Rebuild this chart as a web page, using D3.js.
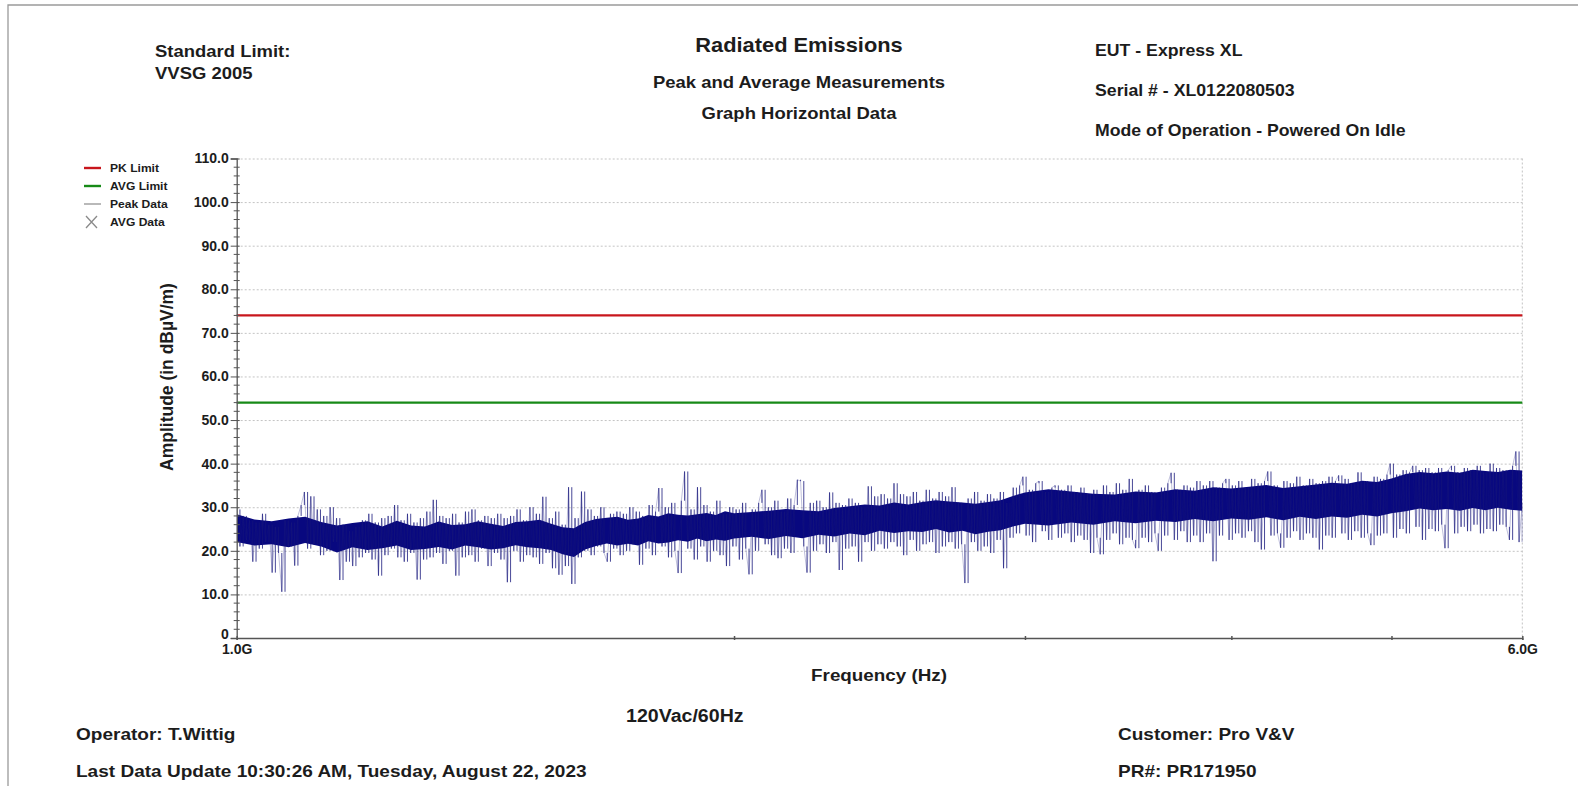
<!DOCTYPE html>
<html><head><meta charset="utf-8">
<script src="https://cdn.jsdelivr.net/npm/d3@7"></script>
<style>
body{margin:0;background:#fff}
svg{display:block}
text{font-family:"Liberation Sans",Arial,sans-serif;fill:#1c1c1c}
</style>
</head><body>
<svg id="chart" width="1578" height="786"></svg>
<script>
// ---------- data ----------
const yTickValues = [0,10,20,30,40,50,60,70,80,90,100,110];
const yTickLabels = ["0","10.0","20.0","30.0","40.0","50.0","60.0","70.0","80.0","90.0","100.0","110.0"];
const xTickFreqGHz = [1,2,3,4,5,6];
const xTickLabels = ["1.0G","","","","","6.0G"];
const pkLimit = 74.0;
const avgLimit = 54.0;
const legendLabels = ["PK Limit","AVG Limit","Peak Data","AVG Data"];

// dense core of the peak trace (envelope of the overlapping sweep lines)
const coreFreqGHz = [
1.000,1.025,1.050,1.075,1.100,1.125,1.150,1.175,1.200,1.225,1.250,1.275,1.300,1.325,1.350,1.375,1.400,1.425,1.450,1.475,
1.500,1.525,1.550,1.575,1.600,1.625,1.650,1.675,1.700,1.725,1.750,1.775,1.800,1.825,1.850,1.875,1.900,1.925,1.950,1.975,
2.00,2.05,2.10,2.15,2.20,2.25,2.30,2.35,2.40,2.45,2.50,2.55,2.60,2.65,2.70,2.75,2.80,2.85,2.90,2.95,
3.0,3.1,3.2,3.3,3.4,3.5,3.6,3.7,3.8,3.9,4.0,4.1,4.2,4.3,4.4,4.5,4.6,4.7,4.8,4.9,5.0,5.1,5.2,5.3,5.4,5.5,5.6,5.7,5.8,5.9,6.0];
const coreLo = [
22,21.2,21.5,20.8,21.8,21,19.6,20.8,20.2,20.6,21.2,20.2,20.4,20.9,20.3,21.2,20.8,20.3,20.6,21.3,
20.8,20.6,20.2,19.2,18.6,20.3,21.1,21.7,21.2,21.6,21.2,22.2,21.7,21.9,22.4,22.1,22.8,22.2,22.6,22.3,
22.8,23.2,22.7,23.4,22.9,23.7,23.3,24,23.6,24.6,24.1,24.5,24.3,25,24.2,24.6,23.8,24.4,24.7,25.6,
26.2,25.8,26.5,26,26.8,26.3,26.9,26.6,27.3,26.8,27.4,27.1,27.7,27,27.8,27.3,27.9,27.6,28.3,27.9,28.6,29.1,29.7,29.3,29.6,29.2,29.8,29.3,29.9,29.4,29.2];
const coreHi = [
28.4,27.2,26.8,27.4,27.8,26.6,25.8,26.4,26.8,25.6,26.9,25.8,25.6,26.7,25.9,26.1,26.8,26.2,25.7,26.6,
26.8,27.1,26.2,25.4,25.2,26.6,27.3,27.6,27.8,27.1,27.4,28.2,27.9,28.6,28.3,28.1,28.4,28.7,28.2,29.1,
28.6,28.9,29.2,29.6,29.3,29.1,29.8,30.2,30.6,30.4,31.1,30.6,31.2,31.6,31.3,31.1,30.8,31.2,31.6,32.6,
33.4,34.1,33.6,33.1,32.9,33.6,33.4,34.1,33.8,34.6,34.3,34.7,35.1,34.4,34.8,35.2,35.6,35.4,36.1,35.8,36.6,37.6,38.1,37.8,38.2,37.9,38.6,38.3,38.1,38.6,38.4];

// peak data trace (dBuV/m), sweep 1.0 GHz -> 6.0 GHz
const sweepStartGHz = 1.0, sweepStopGHz = 6.0;
const peakData = [
29.5,21,28,22.5,27,17.5,26.5,20.5,28.5,22,26,15,25.5,19.5,10.6,27,21,26.5,16.6,28,
30.5,33.5,20.5,32.5,21.5,29.5,19,28,20,30,22,27.5,13.3,26,17.5,24.5,16.5,25.5,18.5,27,
19.5,28.5,18,26.5,14.3,27.5,19,28,20.5,30.5,18.5,27,17.5,28.5,19.5,26.5,13.4,27.5,18,29,
18.5,31.7,19.5,28,17,27.5,20,28.5,14.3,26.5,18.5,29,19,29.5,17.5,27,20.5,28,16.5,27.5,
19.5,28.5,18,27.5,12.8,28,20,29.5,17.5,27,19,30,18.5,28.5,17,32.4,19.5,27.5,16,29,
14.5,26,16.5,34.6,12.4,27.5,18.5,33.6,20,29.5,19,28,21,30,19.5,17.5,28.5,20.5,29,19,
28.5,20,30,21.5,29,16.8,28,20.5,30.5,19,29,34.4,21,30,18.5,31,20,14.9,31.5,38.2,
20.5,29.5,18,34.6,21,30.5,17.5,29,20,31.5,19,28.5,16.5,30,21,29.5,18,31,20.5,14.6,
29.5,20,31,34,21.5,30,19,31.5,18.3,29,20.5,32,19.5,30.5,36.3,36,21,15,31,20,
31.5,21.5,30,19.5,33.4,22,31,15.6,30.5,20.5,32,21,31,17.5,30,22,34.8,20,32.5,21.5,
33,20.5,32,22,35.5,21,33,19,32.5,22.5,33.5,20,31.5,21.5,34,22,32,19.5,33.5,21,
32.5,22,34.6,20.5,31,21.5,12.6,32,22,33.5,20,31.5,21,33,19.5,32,22.5,33.5,16,31,
23,34.5,24,35,37,23.5,34,22,35.5,36,24.5,33.5,22.5,34.5,35,23,34,24,35,22,
33.5,23.5,34.5,22.5,33,19.5,34,23,19.2,35,22.5,33.5,24,35.5,21.5,34,23,36.5,22.5,20.6,
34,23,35,22,33.5,24,20,34.5,23.5,35.5,37.9,22.5,34,24.5,35,22,34.5,23.5,36,22,
35,24,36,17.6,34.5,23.5,35.5,36.5,22.5,35,24,36,23,34.5,24.5,36.5,22,35.5,20.3,36,
38.2,23.5,35,24,20.7,36,23,35.5,24.5,37,22.5,35,24,36.5,23,35.5,20.3,36,23.5,37,
23,36,37.3,24,36.5,22.5,35.5,24.5,38,23,36,24,21.3,37,23.5,36.5,24,37.5,40,23,
37.5,25,38.5,24,38,39.5,25.5,38.5,22.5,39,25,38,24.5,39,26,20.6,38.5,39.5,24,38,
25.5,39,24.5,38.5,26,39.5,24,38,25,40,24.5,39,26,38.5,25.5,22.5,39.5,42.8,22,31
];

// ---------- layout ----------
const svg = d3.select("#chart");
const plot = {left:236.7, right:1522.3, top:158.5, bottom:638};
const x = d3.scaleLog().domain([1,6]).range([plot.left, plot.right]);
const y = d3.scaleLinear().domain([0,110]).range([plot.bottom, plot.top]);
const SX = 1.12;

function txt(xp, yc, s, size, weight, anchor, sx) {
  sx = sx || SX;
  svg.append("text")
    .attr("transform", `translate(${xp},${yc + size*0.36}) scale(${sx},1)`)
    .attr("font-size", size).attr("font-weight", weight)
    .attr("text-anchor", anchor).text(s);
}

// outer frame (left + top)
svg.append("path").attr("d","M8,786V5H1578").attr("fill","none").attr("stroke","#9a9a9a").attr("stroke-width",1.3);

// header texts
txt(155, 51, "Standard Limit:", 16.5, "bold", "start");
txt(155, 73, "VVSG 2005", 16.5, "bold", "start");
txt(799, 45, "Radiated Emissions", 19.5, "bold", "middle");
txt(799, 82, "Peak and Average Measurements", 16.5, "bold", "middle");
txt(799, 113, "Graph Horizontal Data", 16.5, "bold", "middle");
txt(1095, 50, "EUT - Express XL", 15.8, "bold", "start");
txt(1095, 90, "Serial # - XL0122080503", 15.8, "bold", "start");
txt(1095, 130, "Mode of Operation - Powered On Idle", 15.8, "bold", "start");

// footer texts
txt(879, 675, "Frequency (Hz)", 16.8, "bold", "middle");
txt(626, 716, "120Vac/60Hz", 17.5, "bold", "start");
txt(76, 734, "Operator: T.Wittig", 17, "bold", "start");
txt(76, 771, "Last Data Update 10:30:26 AM, Tuesday, August 22, 2023", 17, "bold", "start");
txt(1118, 734, "Customer: Pro V&V", 17, "bold", "start");
txt(1118, 771, "PR#: PR171950", 17, "bold", "start");

// y axis title
svg.append("text")
  .attr("transform", `translate(166,377) rotate(-90) scale(1,1.1)`)
  .attr("y", 17.5*0.36).attr("font-size", 17.5).attr("font-weight","bold").attr("text-anchor","middle")
  .text("Amplitude (in dB\u00b5V/m)");

// grid
const grid = svg.append("g").attr("transform",`translate(${plot.left},0)`)
  .call(d3.axisLeft(y).tickValues(yTickValues.slice(1)).tickSize(-(plot.right-plot.left)).tickFormat(""));
grid.select(".domain").remove();
grid.selectAll("line").attr("stroke","#c4c4c4").attr("stroke-dasharray","2,2").attr("stroke-width",1);
svg.append("line").attr("x1",plot.right).attr("x2",plot.right).attr("y1",plot.top).attr("y2",plot.bottom)
  .attr("stroke","#c4c4c4").attr("stroke-dasharray","2,2");

// clip
svg.append("clipPath").attr("id","clip").append("rect")
  .attr("x",plot.left).attr("y",plot.top).attr("width",plot.right-plot.left).attr("height",plot.bottom-plot.top);

// peak data core
const coreRows = coreFreqGHz.map((f,i)=>({f, lo:coreLo[i], hi:coreHi[i]}));
svg.append("path").datum(coreRows).attr("clip-path","url(#clip)")
  .attr("d", d3.area().x(d=>x(d.f)).y0(d=>y(d.lo)).y1(d=>y(d.hi)))
  .attr("fill","#08087f");

// peak data trace, drawn as per-column vertical strokes between successive samples
const ratio = sweepStopGHz/sweepStartGHz, n = peakData.length;
const peakRows = peakData.map((v,i)=>({f: sweepStartGHz*Math.pow(ratio, i/(n-1)), v, prev: i>0?peakData[i-1]:v}));
svg.append("g").attr("clip-path","url(#clip)").selectAll("line").data(peakRows).join("line")
  .attr("x1",d=>x(d.f)).attr("x2",d=>x(d.f))
  .attr("y1",d=>y(d.prev)).attr("y2",d=>y(d.v))
  .attr("stroke","#15157a").attr("stroke-opacity",0.78).attr("stroke-width",1);
// thin connecting trace
svg.append("path").datum(peakRows).attr("clip-path","url(#clip)")
  .attr("d", d3.line().x(d=>x(d.f)).y(d=>y(d.v)))
  .attr("fill","none").attr("stroke","#1a1a80").attr("stroke-opacity",0.35).attr("stroke-width",0.8);

// limits
svg.append("line").attr("x1",x(1)).attr("x2",x(6)).attr("y1",y(pkLimit)).attr("y2",y(pkLimit))
  .attr("stroke","#c8161c").attr("stroke-width",2.2);
svg.append("line").attr("x1",x(1)).attr("x2",x(6)).attr("y1",y(avgLimit)).attr("y2",y(avgLimit))
  .attr("stroke","#178a17").attr("stroke-width",2.2);

// y axis
const yAxis = svg.append("g").attr("transform",`translate(${plot.left},0)`)
  .call(d3.axisLeft(y).tickValues(yTickValues).tickFormat((d,i)=>yTickLabels[i]).tickSize(6).tickPadding(2));
yAxis.select(".domain").attr("stroke","#555").attr("stroke-width",1.3);
yAxis.selectAll(".tick line").attr("stroke","#555").attr("x2",-6).attr("x1",3);
yAxis.selectAll("text").attr("font-size",14).attr("font-weight","bold").attr("fill","#222")
  .style("font-family","'Liberation Sans',Arial,sans-serif");
yAxis.selectAll(".tick").filter(d=>d===0).select("text").attr("dy","0.05em");
const minor = d3.range(0,111,2).filter(v=>v%10!==0);
svg.append("g").attr("transform",`translate(${plot.left},0)`).selectAll("line").data(minor).join("line")
  .attr("x1",-3).attr("x2",3).attr("y1",d=>y(d)).attr("y2",d=>y(d)).attr("stroke","#555");

// x axis
const xAxis = svg.append("g").attr("transform",`translate(0,${plot.bottom})`)
  .call(d3.axisBottom(x).tickValues(xTickFreqGHz).tickFormat((d,i)=>xTickLabels[i]).tickSize(2).tickPadding(4));
xAxis.select(".domain").attr("stroke","#555").attr("stroke-width",1.3);
xAxis.selectAll(".tick line").attr("stroke","#555").attr("y1",-2).attr("stroke-width",1.5);
xAxis.selectAll("text").attr("font-size",14).attr("font-weight","bold").attr("fill","#222")
  .style("font-family","'Liberation Sans',Arial,sans-serif");

// legend
const leg = svg.append("g");
const legY = [168,186,204,222];
const legColors = ["#c8161c","#178a17","#8a8a8a"];
legColors.forEach((c,i)=>{
  leg.append("line").attr("x1",84).attr("x2",101).attr("y1",legY[i]).attr("y2",legY[i])
    .attr("stroke",c).attr("stroke-width", i<2?2.4:1.2);
});
leg.append("path").attr("d",`M86,${legY[3]-6}L97,${legY[3]+6}M97,${legY[3]-6}L86,${legY[3]+6}`)
  .attr("stroke","#8a8a8a").attr("stroke-width",1.3).attr("fill","none");
legendLabels.forEach((s,i)=>txt(110, legY[i], s, 11, "bold", "start", 1.1));
</script>
</body></html>
